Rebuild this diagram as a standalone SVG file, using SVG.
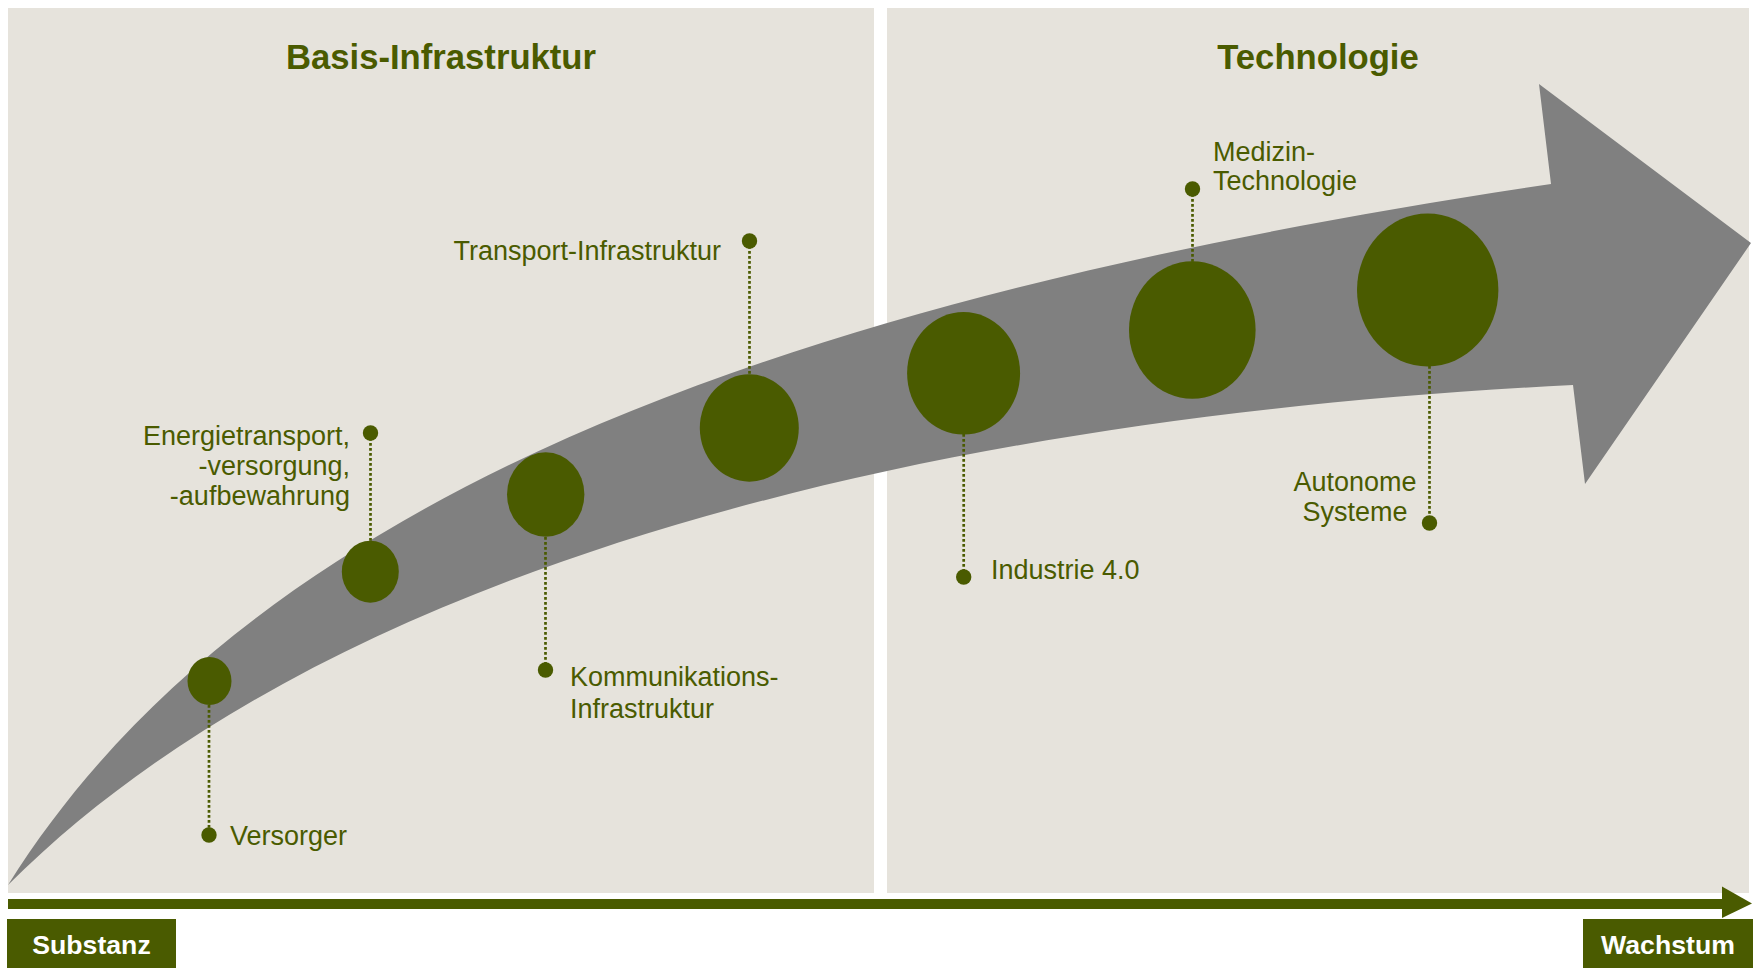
<svg xmlns="http://www.w3.org/2000/svg" width="1761" height="968" viewBox="0 0 1761 968">
<style>
.panel{fill:#e6e3dc}
.title{font-family:"Liberation Sans",Arial,sans-serif;font-weight:bold;font-size:34.67px;fill:#4a5b00;text-anchor:middle}
.lbl{font-family:"Liberation Sans",Arial,sans-serif;font-size:27px;fill:#4a5b00}
.big{fill:#4a5b00}
.dot{fill:#4a5b00}
.lead{stroke:#4a5b00;stroke-width:2.7;stroke-dasharray:2.7 2.3;fill:none}
.axislbl{font-family:"Liberation Sans",Arial,sans-serif;font-weight:bold;font-size:26.67px;fill:#ffffff;text-anchor:middle}
</style>
<rect width="1761" height="968" fill="#ffffff"/>
<g id="panel-basis">
<rect class="panel" x="8" y="8" width="866" height="885"/>
<text class="title" x="441" y="69">Basis-Infrastruktur</text>
</g>
<g id="panel-technologie">
<rect class="panel" x="887" y="8" width="862" height="885"/>
<text class="title" x="1318" y="69">Technologie</text>
</g>
<g id="big-arrow">
<path d="M8,885 C268,469 851,289 1551,184 L1539,84 L1751,243 L1585,484 L1573,385 C873,420 308,585 8,885 Z" fill="#808080"/>
</g>
<g id="connectors">
<line class="lead" x1="209" y1="705" x2="209" y2="835"/>
<line class="lead" x1="370.5" y1="433" x2="370.5" y2="541"/>
<line class="lead" x1="545.5" y1="537" x2="545.5" y2="670"/>
<line class="lead" x1="749.5" y1="241" x2="749.5" y2="375"/>
<line class="lead" x1="963.7" y1="434" x2="963.7" y2="577"/>
<line class="lead" x1="1192.5" y1="189" x2="1192.5" y2="262"/>
<line class="lead" x1="1429.5" y1="366" x2="1429.5" y2="523"/>
</g>
<g id="node-versorger">
<ellipse class="big" cx="209.5" cy="681" rx="22" ry="24"/>
<circle class="dot" cx="209" cy="835" r="7.7"/>
<text class="lbl" x="230" y="845">Versorger</text>
</g>
<g id="node-energie">
<ellipse class="big" cx="370.3" cy="571.7" rx="28.5" ry="31"/>
<circle class="dot" cx="370.5" cy="433" r="7.7"/>
<text class="lbl" text-anchor="end"><tspan x="350" y="444.5">Energietransport,</tspan><tspan x="350" y="474.5">-versorgung,</tspan><tspan x="350" y="504.5">-aufbewahrung</tspan></text>
</g>
<g id="node-kommunikation">
<ellipse class="big" cx="545.7" cy="494.5" rx="38.7" ry="42.2"/>
<circle class="dot" cx="545.5" cy="670" r="7.7"/>
<text class="lbl"><tspan x="570" y="685.7">Kommunikations-</tspan><tspan x="570" y="718.3">Infrastruktur</tspan></text>
</g>
<g id="node-transport">
<ellipse class="big" cx="749.3" cy="428" rx="49.5" ry="53.7"/>
<circle class="dot" cx="749.5" cy="241" r="7.7"/>
<text class="lbl" x="721" y="260" text-anchor="end">Transport-Infrastruktur</text>
</g>
<g id="node-industrie">
<ellipse class="big" cx="963.6" cy="373.3" rx="56.5" ry="61.3"/>
<circle class="dot" cx="963.7" cy="577" r="7.7"/>
<text class="lbl" x="991" y="579">Industrie 4.0</text>
</g>
<g id="node-medizin">
<ellipse class="big" cx="1192.3" cy="330" rx="63.3" ry="68.8"/>
<circle class="dot" cx="1192.5" cy="189" r="7.7"/>
<text class="lbl"><tspan x="1213" y="160.7">Medizin-</tspan><tspan x="1213" y="190">Technologie</tspan></text>
</g>
<g id="node-autonom">
<ellipse class="big" cx="1427.7" cy="290" rx="70.7" ry="76.5"/>
<circle class="dot" cx="1429.5" cy="523" r="7.7"/>
<text class="lbl" text-anchor="middle"><tspan x="1355" y="491">Autonome</tspan><tspan x="1355" y="521">Systeme</tspan></text>
</g>
<g id="axis">
<rect x="8" y="899" width="1716" height="10" fill="#4a5b00"/>
<polygon points="1722,886.5 1752,903.5 1722,918" fill="#4a5b00"/>
</g>
<g id="label-substanz">
<rect x="7" y="919" width="169" height="49" fill="#4a5b00"/>
<text class="axislbl" x="91.5" y="954">Substanz</text>
</g>
<g id="label-wachstum">
<rect x="1583" y="919" width="170" height="49" fill="#4a5b00"/>
<text class="axislbl" x="1668" y="954">Wachstum</text>
</g>
</svg>
